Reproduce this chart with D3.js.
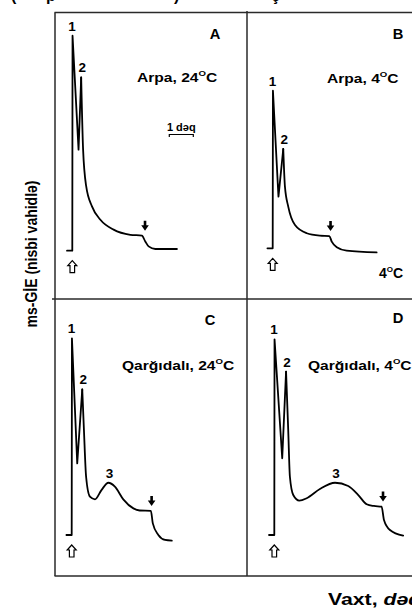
<!DOCTYPE html>
<html>
<head>
<meta charset="utf-8">
<script src="https://cdn.jsdelivr.net/npm/d3@7/dist/d3.min.js"></script>
<style>
    body { margin: 0; background: #fff; }
    svg { display: block; font-family: "Liberation Sans", Arial, sans-serif; font-weight: bold; }
</style>
</head>
<body>
<div id="chart"></div>
<script>
// Time in minutes (0 = light switched on), signal in relative units (A peak 1 = 100)
const timeA = [-0.22, 0, 0.01, 0.26, 0.37, 0.45, 0.58, 0.82, 1.17, 1.72, 2.42, 2.9, 3.04, 3.18, 3.46, 4.36];
const signalA = [0, 0, 100, 47, 80.6, 47, 29.9, 20.6, 14.4, 9.8, 7.4, 7.0, 4.3, 2.0, 0.8, 0.8];

const timeB = [-0.22, 0, 0.01, 0.24, 0.44, 0.51, 0.65, 0.93, 1.42, 1.97, 2.36, 2.46, 2.67, 3.08, 4.33];
const signalB = [0, 0, 73.3, 24, 46.2, 28.7, 19.3, 10.8, 7, 5.9, 5.7, 3.1, 0.5, -1.1, -1.9];

const timeC = [-0.22, 0, 0.01, 0.23, 0.44, 0.51, 0.6, 0.76, 0.97, 1.24, 1.53, 1.8, 2.15, 2.57, 2.83, 3.3, 3.38, 3.61, 3.89, 4.17];
const signalC = [0, 0, 91.5, 33.3, 67.7, 48.8, 27.1, 17.8, 16.6, 20.9, 24.3, 22.5, 16.6, 12.4, 11.4, 11.2, 5.4, 0, -2.3, -2.6];

const timeD = [-0.22, 0, 0.01, 0.33, 0.49, 0.58, 0.65, 0.79, 1.04, 1.35, 1.9, 2.53, 3.08, 3.5, 3.85, 4.15, 4.47, 4.57, 4.82, 5.37];
const signalD = [0, 0, 91, 35.7, 76, 48.8, 27.1, 18.6, 16, 17.1, 21.4, 24.3, 22.8, 18.6, 14.3, 13.5, 13.2, 7, 2.3, -0.3];

// peak labels (index into the series) and light-off times (black arrows)
const peakLabels = ["1", "2", "3"];
const peaksA = [2, 4];
const peaksB = [2, 4];
const peaksC = [2, 4, 10];
const peaksD = [2, 4, 11];
const lightOff = [3.03, 2.41, 3.33, 4.53];

const panelLetters = ["A", "B", "C", "D"];
const panelTitles = [["Arpa, 24", "C"], ["Arpa, 4", "C"], ["Qarğıdalı, 24", "C"], ["Qarğıdalı, 4", "C"]];

const width = 412, height = 612;

const svg = d3.select("#chart")
    .append("svg")
    .attr("width", width)
    .attr("height", height);

// frame
const frame = svg.append("g")
    .attr("stroke", "#2a2a2a")
    .attr("stroke-width", 1.5);
[[54.5, 12.5, 412, 12.5], [55, 12.5, 55, 576], [52, 299, 412, 299],
 [54.5, 576, 412, 576], [247, 11, 247, 576]].forEach(l => {
    frame.append("line")
        .attr("x1", l[0]).attr("y1", l[1])
        .attr("x2", l[2]).attr("y2", l[3]);
});

// panel layout: origin of the trace and label spots
const panels = [
    { t: timeA, v: signalA, peaks: peaksA, x0: 72.3, y0: 250.7, letter: [215, 38.5], title: [137, 82] },
    { t: timeB, v: signalB, peaks: peaksB, x0: 272.7, y0: 248.3, letter: [398, 38.5], title: [327, 83] },
    { t: timeC, v: signalC, peaks: peaksC, x0: 71.7, y0: 535, letter: [210, 325], title: [122, 370] },
    { t: timeD, v: signalD, peaks: peaksD, x0: 274.3, y0: 535, letter: [398, 323], title: [308, 370] }
];

function stretchedText(g, str, x, y, size, anchor, sx) {
    return g.append("text")
        .attr("transform", `translate(${x},${y}) scale(${sx},1)`)
        .attr("text-anchor", anchor)
        .style("font-size", size + "px")
        .text(str);
}

panels.forEach((p, i) => {
    const g = svg.append("g");
    const data = p.t.map((t, k) => ({ t: t, v: p.v[k] }));

    const x = d3.scaleLinear().domain([0, 5]).range([p.x0, p.x0 + 120]);
    const y = d3.scaleLinear().domain([0, 100]).range([p.y0, p.y0 - 215]);

    // sharp spikes up to peak 2, smooth decay after it
    const split = p.peaks[1];
    const spike = d3.line().x(d => x(d.t)).y(d => y(d.v));
    const decay = d3.line().x(d => x(d.t)).y(d => y(d.v)).curve(d3.curveMonotoneX);

    [[data.slice(0, split + 1), spike], [data.slice(split), decay]].forEach(part => {
        g.append("path")
            .datum(part[0])
            .attr("fill", "none")
            .attr("stroke", "#000")
            .attr("stroke-width", 1.8)
            .attr("stroke-linejoin", "round")
            .attr("stroke-linecap", "round")
            .attr("d", part[1]);
    });

    // peak numbers
    p.peaks.forEach((idx, n) => {
        const d = data[idx];
        stretchedText(g, peakLabels[n], x(d.t) + (n === 0 ? -0.5 : 1), y(d.v) - 5, 13.5, "middle", 1);
    });

    // light on: hollow arrow under the rise
    const ax = x(0), ay = y(0) + 10;
    g.append("path")
        .attr("d", `M${ax},${ay} l4.5,5 h-2.2 v7 h-4.6 v-7 h-2.2 Z`)
        .attr("fill", "#fff")
        .attr("stroke", "#000")
        .attr("stroke-width", 1.2);

    // light off: black arrow above the step
    const i1 = d3.bisector(d => d.t).left(data, lightOff[i]);
    const level = data[Math.max(0, i1 - 1)].v;
    const bx = x(lightOff[i]), by = y(level) - 5;
    g.append("path")
        .attr("d", `M${bx},${by} l-3.8,-5.5 h2.5 v-4.5 h2.6 v4.5 h2.5 Z`)
        .attr("fill", "#000");

    // panel letter and title
    stretchedText(g, panelLetters[i], p.letter[0], p.letter[1], 14, "middle", 1.05);
    const tt = g.append("text")
        .attr("transform", `translate(${p.title[0]},${p.title[1]}) scale(1.2,1)`)
        .style("font-size", "13px");
    tt.append("tspan").text(panelTitles[i][0]);
    tt.append("tspan").attr("dy", -6).style("font-size", "8px").text("O");
    tt.append("tspan").attr("dy", 6).text(panelTitles[i][1]);

    // 1 minute scale bar in panel A
    if (i === 0) {
        const sb = 169.3, sy = 134.5, len = x(1) - x(0);
        g.append("path")
            .attr("d", `M${sb},${sy + 2.5} V${sy} H${sb + len} V${sy + 2.5}`)
            .attr("fill", "none")
            .attr("stroke", "#000")
            .attr("stroke-width", 1.2);
        stretchedText(g, "1 dəq", sb + len / 2, 130.7, 11, "middle", 1);
    }
});

// low temperature mark in B
const low = svg.append("text")
    .attr("x", 379)
    .attr("y", 278)
    .style("font-size", "14px");
low.append("tspan").text("4");
low.append("tspan").attr("dy", -6).style("font-size", "8px").text("O");
low.append("tspan").attr("dy", 6).text("C");

// axis titles
svg.append("text")
    .attr("transform", "translate(37,254) rotate(-90) scale(1,1.2)")
    .attr("text-anchor", "middle")
    .style("font-size", "14px")
    .text("ms-GİE (nisbi vahidlə)");

const xt = svg.append("text")
    .attr("transform", "translate(328,605) scale(1.25,1)")
    .style("font-size", "17px");
xt.append("tspan").text("Vaxt, ");
xt.append("tspan").style("font-style", "italic").text("dəq");

// cut-off line of the caption above the figure
const cap = svg.append("text")
    .attr("y", 1)
    .style("font-size", "16px");
[["(", 11], ["p", 46], [")", 174], ["ç", 271]].forEach(c => {
    cap.append("tspan").attr("x", c[1]).text(c[0]);
});
</script>
</body>
</html>
